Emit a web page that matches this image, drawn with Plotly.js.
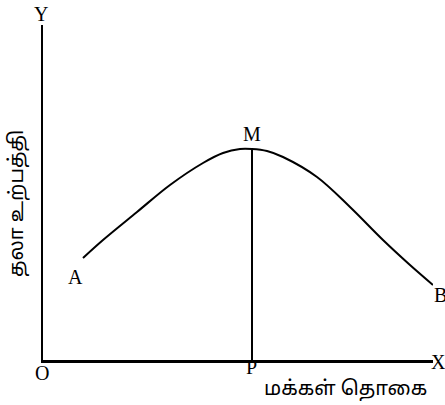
<!DOCTYPE html>
<html>
<head>
<meta charset="utf-8">
<script src="https://cdn.plot.ly/plotly-3.0.1.min.js"></script>
<style>
  body { margin: 0; background: #fff; }
  #chart { width: 445px; height: 405px; }
</style>
</head>
<body>
<div id="chart"></div>
<script>
// Per-capita output vs population curve
const curveX = [40, 60, 94, 127, 160, 180, 197, 209, 224, 240, 274, 307, 340, 367, 390];
const curveY = [102, 120, 148, 175, 197, 207, 211, 211, 209, 203, 183, 153, 120, 95, 75];

// Peak M and its foot P on the x axis
const peakX = [209, 209];
const peakY = [0, 211];

// Point labels
const labelText = ['Y', 'O', 'A', 'M', 'P', 'B', 'X'];
const labelX = [-2, -1, 32, 209, 208, 397, 395];
const labelY = [346, -13, 83, 226, -7, 65, -2];

const xTitle = 'மக்கள் தொகை';
const yTitle = 'தலா உற்பத்தி';

const xMax = 390;
const yMax = 335;

const tamilFont = '"Noto Sans Tamil", "Lohit Tamil", "Noto Sans", sans-serif';
const letterFont = { family: '"Liberation Serif", "Times New Roman", serif', size: 20, color: '#000' };

const data = [{
    x: curveX,
    y: curveY,
    type: 'scatter',
    mode: 'lines',
    line: { color: '#000', width: 2, shape: 'spline', smoothing: 1 },
    hoverinfo: 'skip'
}, {
    x: peakX,
    y: peakY,
    type: 'scatter',
    mode: 'lines',
    line: { color: '#000', width: 2 },
    hoverinfo: 'skip'
}];

// paper coords so labels outside the axes ranges still show
function toPaper(x, y) {
    return {
        x: x / xMax, y: y / yMax,
        xref: 'paper', yref: 'paper',
        xanchor: 'center', yanchor: 'middle',
        showarrow: false
    };
}

const annotations = labelText.map((t, i) => Object.assign(toPaper(labelX[i], labelY[i]), {
    text: t,
    font: letterFont
}));

annotations.push(Object.assign(toPaper(302, -30), {
    text: xTitle,
    font: { family: tamilFont, size: 20, color: '#000' }
}));

annotations.push(Object.assign(toPaper(-25, 156), {
    text: yTitle,
    textangle: -90,
    font: { family: tamilFont, size: 20, color: '#000' }
}));

const layout = {
    width: 445,
    height: 405,
    margin: { l: 43, r: 12, t: 25, b: 45 },
    paper_bgcolor: '#fff',
    plot_bgcolor: '#fff',
    showlegend: false,
    xaxis: {
        range: [0, xMax],
        showline: true,
        linecolor: '#000',
        linewidth: 2.5,
        showgrid: false,
        zeroline: false,
        showticklabels: false,
        ticks: '',
        fixedrange: true
    },
    yaxis: {
        range: [0, yMax],
        showline: true,
        linecolor: '#000',
        linewidth: 2.5,
        showgrid: false,
        zeroline: false,
        showticklabels: false,
        ticks: '',
        fixedrange: true
    },
    annotations: annotations
};

Plotly.newPlot('chart', data, layout, { displayModeBar: false, staticPlot: true });
</script>
</body>
</html>
